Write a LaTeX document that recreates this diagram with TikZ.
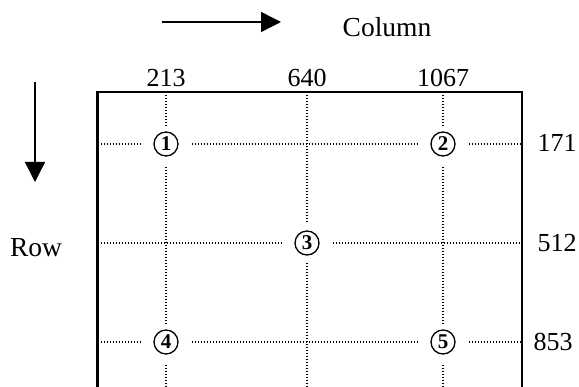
\documentclass[tikz,border=0pt]{standalone}
\usepackage{fontspec}
\setmainfont{Liberation Serif}
\usetikzlibrary{arrows.meta}
\tikzset{
  every picture/.style={x=1pt, y=-1pt},
  boxline/.style={draw=black, line width=2.5pt},
  gridline/.style={draw=black, line width=1.3pt, dash pattern=on 1.3pt off 1.7pt},
  spot/.style={circle, draw=black, line width=1.3pt, minimum size=24pt, inner sep=0pt,
    font=\fontsize{21}{21}\selectfont\bfseries},
  numtext/.style={inner sep=0pt, font=\fontsize{26}{28}\selectfont},
  wordtext/.style={inner sep=0pt, font=\fontsize{27.5}{30}\selectfont},
  dirarrow/.style={-{Triangle[length=20pt,width=20pt]}, line width=1.4pt},
}
\begin{document}
\begin{tikzpicture}
  \useasboundingbox (0,0) rectangle (579,387);
  \coordinate (bl) at (97.5,395);
  \coordinate (tr) at (522,92);
  \coordinate (br) at (522,395);
  \draw[boxline] (bl) |- (tr) -- (br);
  \node[spot] (c1) at (166,144) {1};
  \node[spot] (c2) at (443,144) {2};
  \node[spot] (c3) at (307,243) {3};
  \node[spot] (c4) at (166,342) {4};
  \node[spot] (c5) at (443,342) {5};
  \coordinate (t1) at (166,92);
  \coordinate (t2) at (307,92);
  \coordinate (t3) at (443,92);
  \coordinate (b1) at (166,395);
  \coordinate (b2) at (307,395);
  \coordinate (b3) at (443,395);
  \coordinate (l1) at (97.5,144);
  \coordinate (l2) at (97.5,243);
  \coordinate (l3) at (97.5,342);
  \coordinate (r1) at (522,144);
  \coordinate (r2) at (522,243);
  \coordinate (r3) at (522,342);
  \draw[gridline] (l1) -- ([xshift=-13pt]c1.west) ([xshift=13pt]c1.east) -- ([xshift=-13pt]c2.west)
    ([xshift=13pt]c2.east) -- (r1);
  \draw[gridline] (l2) -- ([xshift=-13pt]c3.west) ([xshift=13pt]c3.east) -- (r2);
  \draw[gridline] (l3) -- ([xshift=-13pt]c4.west) ([xshift=13pt]c4.east) -- ([xshift=-13pt]c5.west)
    ([xshift=13pt]c5.east) -- (r3);
  \draw[gridline] (t1) -- ([yshift=5pt]c1.north) ([yshift=-10pt]c1.south) -- ([yshift=5pt]c4.north)
    ([yshift=-10pt]c4.south) -- (b1);
  \draw[gridline] (t2) -- ([yshift=8pt]c3.north) ([yshift=-7pt]c3.south) -- (b2);
  \draw[gridline] (t3) -- ([yshift=5pt]c2.north) ([yshift=-10pt]c2.south) -- ([yshift=5pt]c5.north)
    ([yshift=-10pt]c5.south) -- (b3);
  \node[numtext, anchor=base] (n213) at (166,87) {213};
  \node[numtext, anchor=base] (n640) at (307,87) {640};
  \node[numtext, anchor=base] (n1067) at (443,87) {1067};
  \node[numtext] (n171) at (557,143) {171};
  \node[numtext] (n512) at (557,243) {512};
  \node[numtext] (n853) at (553,342) {853};
  \coordinate (ha) at (162,22);
  \coordinate (hb) at (281,22);
  \draw[dirarrow] (ha) -- (hb);
  \coordinate (va) at (35,82);
  \coordinate (vb) at (35,182);
  \draw[dirarrow] (va) -- (vb);
  \node[wordtext, anchor=base] (coltxt) at (387,37) {Column};
  \node[wordtext, anchor=base] (rowtxt) at (36,257) {Row};
\end{tikzpicture}
\end{document}
